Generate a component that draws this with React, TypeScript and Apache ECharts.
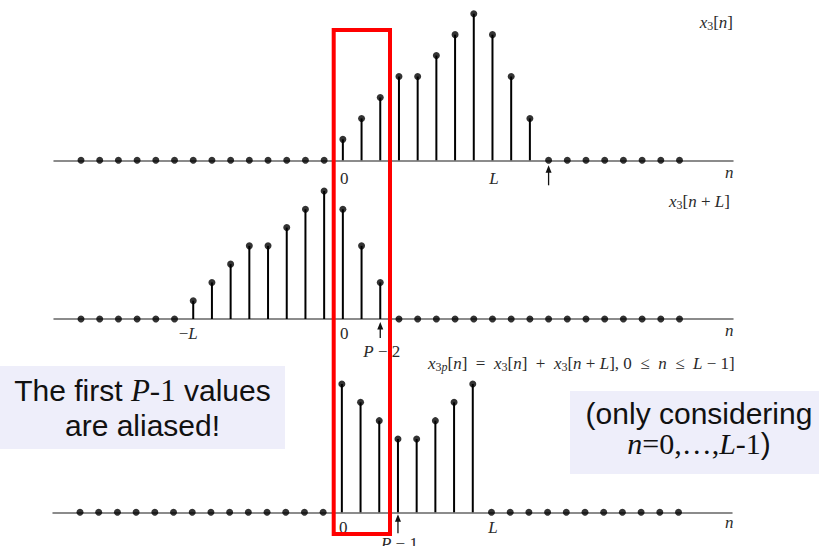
import { useEffect, useRef } from 'react';
import * as echarts from 'echarts';

// ---- data ----
const samples = [-14, -13, -12, -11, -10, -9, -8, -7, -6, -5, -4, -3, -2, -1, 0, 1, 2, 3, 4, 5, 6, 7, 8, 9, 10, 11, 12, 13, 14, 15, 16, 17, 18];
const x3Start = 0;
const x3Values = [1, 2, 3, 4, 4, 5, 6, 7, 6, 4, 2];
const x3ShiftStart = -8;
const x3ShiftValues = [1, 2, 3, 4, 4, 5, 6, 7, 6, 4, 2];
const x3pStart = 0;
const x3pValues = [7, 6, 5, 4, 4, 5, 6, 7];
// arrow positions: L+P-1, P-2, P-1 (L = 8, P = 4)
const arrows1 = [11];
const arrows2 = [2];
const arrows3 = [3];
const ticks1: [number, string][] = [[0, '{r|0}'], [8, '{i|L}']];
const ticks2: [number, string][] = [[-8, '{r|−}{i|L}'], [0, '{r|0}']];
const ticks3: [number, string][] = [[0, '{r|0}'], [8, '{i|L}']];
const arrowLabels1: [number, string][] = [];
const arrowLabels2: [number, string][] = [[2, '{i|P}{r| − 2}']];
const arrowLabels3: [number, string][] = [[3, '{i|P}{r| − 1}']];

const SERIF = '"Liberation Serif", "DejaVu Serif", serif';
const SANS = '"Liberation Sans", Arial, sans-serif';
const INK = '#2a2a2a';
const SP = '\u2002';

function valueAt(n: number, start: number, vals: number[]) {
  const k = n - start;
  return k >= 0 && k < vals.length ? vals[k] : 0;
}

const labelRich = {
  i: { fontFamily: SERIF, fontStyle: 'italic', fontSize: 17, fill: INK },
  r: { fontFamily: SERIF, fontSize: 17, fill: INK },
};

function mathRich(size: number) {
  const sub = Math.round(size * 0.72);
  return {
    i: { fontFamily: SERIF, fontStyle: 'italic', fontSize: size, fill: INK },
    r: { fontFamily: SERIF, fontSize: size, fill: INK },
    s: { fontFamily: SERIF, fontSize: sub, fill: INK, padding: [8, 0, 0, 0] },
    si: { fontFamily: SERIF, fontStyle: 'italic', fontSize: sub, fill: INK, padding: [8, 0, 0, 0] },
  };
}

export default function App() {
  const ref = useRef<HTMLDivElement>(null);
  useEffect(() => {
    if (!ref.current) return;
    const chart = echarts.init(ref.current, null, { renderer: 'svg' });

    const plots = [
      { start: x3Start, vals: x3Values, arrows: arrows1, ticks: ticks1, alabels: arrowLabels1,
        grid: { left: 54, top: 13.7, width: 679, height: 146.6 }, tickDy: 18.5, arrowTip: 5, arrowLen: 20, alabelDy: 32 },
      { start: x3ShiftStart, vals: x3ShiftValues, arrows: arrows2, ticks: ticks2, alabels: arrowLabels2,
        grid: { left: 54, top: 191, width: 679, height: 128 }, tickDy: 14, arrowTip: 3, arrowLen: 16, alabelDy: 32 },
      { start: x3pStart, vals: x3pValues, arrows: arrows3, ticks: ticks3, alabels: arrowLabels3,
        grid: { left: 53, top: 384, width: 679, height: 128.3 }, tickDy: 15, arrowTip: 2, arrowLen: 19, alabelDy: 31 },
    ];

    const xMin = -15.444;
    const xMax = 20.86;

    const series: any[] = [];
    plots.forEach((p, i) => {
      const dots = samples.map((n) => [n, valueAt(n, p.start, p.vals)]);
      const stems = dots.filter((d) => d[1] !== 0);
      series.push({
        type: 'custom', xAxisIndex: i, yAxisIndex: i, data: stems, clip: false, silent: true, z: 3,
        renderItem: (_params: any, api: any) => {
          const a = api.coord([api.value(0), 0]);
          const b = api.coord([api.value(0), api.value(1)]);
          return { type: 'line', shape: { x1: a[0], y1: a[1], x2: b[0], y2: b[1] }, style: { stroke: '#000', lineWidth: 2 } };
        },
      });
      series.push({
        type: 'scatter', xAxisIndex: i, yAxisIndex: i, data: dots, symbolSize: 7, clip: false, silent: true, z: 4,
        itemStyle: { color: '#000' },
      });
      series.push({
        type: 'custom', xAxisIndex: i, yAxisIndex: i, data: p.arrows.map((n) => [n, 0]), clip: false, silent: true, z: 4,
        renderItem: (_params: any, api: any) => {
          const a = api.coord([api.value(0), 0]);
          const x = a[0];
          const y = a[1] + p.arrowTip;
          return {
            type: 'group',
            children: [
              { type: 'line', shape: { x1: x, y1: y + 5, x2: x, y2: y + p.arrowLen }, style: { stroke: '#111', lineWidth: 1.3 } },
              { type: 'polygon', shape: { points: [[x, y], [x - 3, y + 7.5], [x + 3, y + 7.5]] }, style: { fill: '#111' } },
            ],
          };
        },
      });
      const textSeries = (items: [number, string][], dy: number) => ({
        type: 'custom', xAxisIndex: i, yAxisIndex: i, data: items.map((t) => [t[0], 0]), clip: false, silent: true, z: 5,
        renderItem: (params: any, api: any) => {
          const a = api.coord([api.value(0), 0]);
          const txt = items[params.dataIndex][1];
          const dx = txt.startsWith('{r|−}') ? -5 : 1.5;
          return {
            type: 'text', x: a[0] + dx, y: a[1] + dy,
            style: { text: txt, rich: labelRich, align: 'center', verticalAlign: 'middle', textAlign: 'center', textVerticalAlign: 'middle' },
          };
        },
      });
      series.push(textSeries(p.ticks, p.tickDy));
      if (p.alabels.length) series.push(textSeries(p.alabels, p.alabelDy));
    });

    const mr = mathRich(17);
    const fr = mathRich(17);

    const boxSans = { fontFamily: SANS, fontSize: 30, fill: '#111' };
    const boxSerif = { fontFamily: SERIF, fontSize: 31, fill: '#111' };
    const boxSerifI = { fontFamily: SERIF, fontSize: 31, fontStyle: 'italic', fill: '#111' };

    const nLabel = (y: number) => ({
      type: 'text', x: 725, y, z: 10,
      style: { text: 'n', font: `italic 17px ${SERIF}`, fill: INK, align: 'left', verticalAlign: 'middle', textAlign: 'left', textVerticalAlign: 'middle' },
    });

    const formula =
      `{i|x}{s|3}{si|p}{r|[}{i|n}{r|]${SP}=${SP}}{i|x}{s|3}{r|[}{i|n}{r|]${SP}+${SP}}{i|x}{s|3}{r|[}{i|n}{r| + }{i|L}{r|], 0${SP}≤${SP}}{i|n}{r|${SP}≤${SP}}{i|L}{r| − 1]}`;

    chart.setOption({
      animation: false,
      backgroundColor: '#ffffff',
      grid: plots.map((p) => ({ ...p.grid, containLabel: false })),
      xAxis: plots.map((_p, i) => ({
        type: 'value', gridIndex: i, min: xMin, max: xMax,
        axisLine: { show: true, onZero: false, lineStyle: { color: '#666', width: 1.5 } },
        axisTick: { show: false }, axisLabel: { show: false }, splitLine: { show: false },
      })),
      yAxis: plots.map((_p, i) => ({ type: 'value', gridIndex: i, min: 0, max: 7, show: false })),
      series,
      graphic: [
        { type: 'text', x: 733, y: 22, z: 10,
          style: { text: '{i|x}{s|3}{r|[}{i|n}{r|]}', rich: mr, align: 'right', verticalAlign: 'middle', textAlign: 'right', textVerticalAlign: 'middle' } },
        { type: 'text', x: 669, y: 201, z: 10,
          style: { text: '{i|x}{s|3}{r|[}{i|n}{r| + }{i|L}{r|]}', rich: mr, align: 'left', verticalAlign: 'middle', textAlign: 'left', textVerticalAlign: 'middle' } },
        { type: 'text', x: 428, y: 363, z: 10,
          style: { text: formula, rich: fr, align: 'left', verticalAlign: 'middle', textAlign: 'left', textVerticalAlign: 'middle' } },
        nLabel(172),
        nLabel(330),
        nLabel(522),
        // crop of the figure's right edge
        { type: 'rect', z: 20, shape: { x: 734, y: 0, width: 90, height: 546 }, style: { fill: '#ffffff' } },
        // boxes
        { type: 'rect', z: 30, shape: { x: 0, y: 366, width: 285, height: 83 }, style: { fill: '#EEEEFA' } },
        { type: 'text', x: 142.5, y: 408, z: 31,
          style: { text: '{a|The first }{pi|P}{p|-1}{a| values}\n{a|are aliased!}', rich: { a: { ...boxSans, lineHeight: 35 }, p: { ...boxSerif, lineHeight: 35 }, pi: { ...boxSerifI, lineHeight: 35 } },
            align: 'center', verticalAlign: 'middle', textAlign: 'center', textVerticalAlign: 'middle' } },
        { type: 'rect', z: 30, shape: { x: 570, y: 391, width: 260, height: 83 }, style: { fill: '#EEEEFA' } },
        { type: 'text', x: 699, y: 428, z: 31,
          style: { text: '{a|(only considering}\n{ni|n}{n|=0,…,}{ni|L}{n|-1}{a|)}', rich: { a: { ...boxSans, lineHeight: 30 }, n: { ...boxSerif, fontSize: 30, lineHeight: 30 }, ni: { ...boxSerifI, fontSize: 30, lineHeight: 30 } },
            align: 'center', verticalAlign: 'middle', textAlign: 'center', textVerticalAlign: 'middle' } },
        // highlight rectangle
        { type: 'rect', z: 40, shape: { x: 333.7, y: 30, width: 56.3, height: 504 }, style: { fill: 'none', stroke: '#FF0000', lineWidth: 4 } },
      ],
    });
    return () => chart.dispose();
  }, []);
  return <div ref={ref} style={{ position: 'fixed', left: 0, top: 0, width: 819, height: 546 }} />;
}
